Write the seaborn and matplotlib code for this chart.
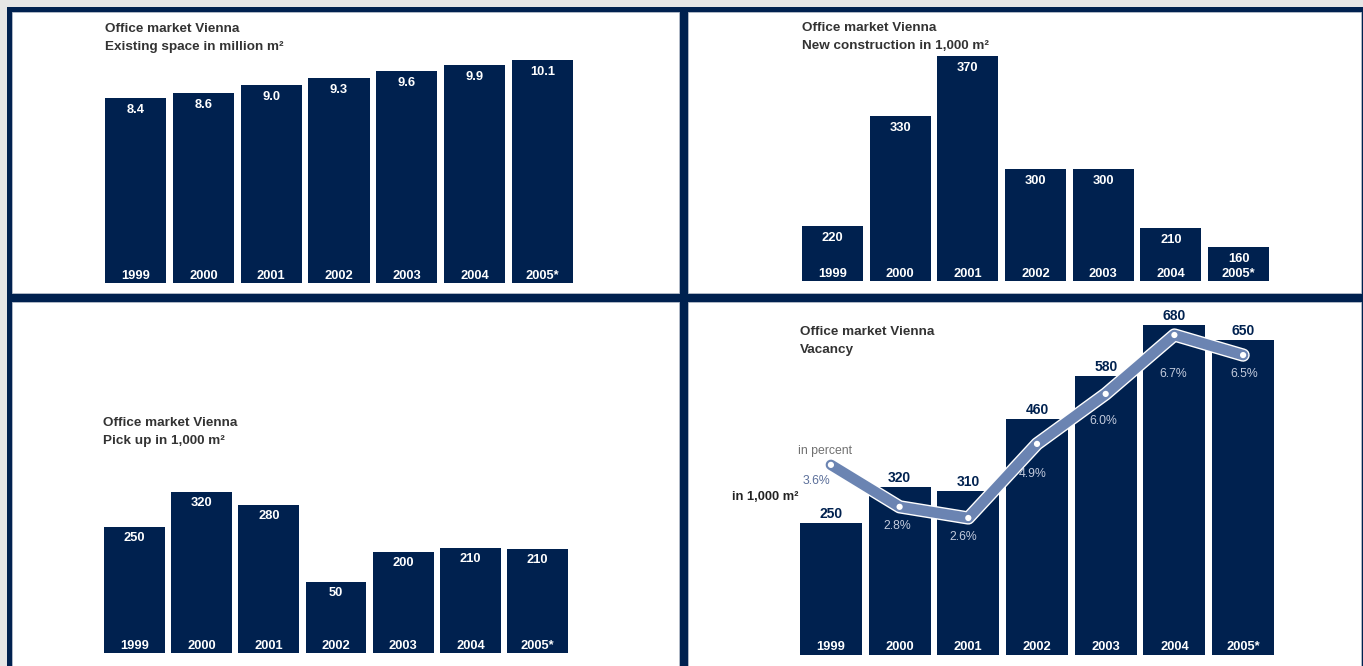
import numpy as np
import pandas as pd
import matplotlib
matplotlib.use("Agg")
import matplotlib.pyplot as plt
import matplotlib.patheffects as pe
from matplotlib.patches import Rectangle
import seaborn as sns

# ---------------- data ----------------
years = ["1999", "2000", "2001", "2002", "2003", "2004", "2005*"]

existing_space = [8.4, 8.6, 9.0, 9.3, 9.6, 9.9, 10.1]          # million m²

new_construction = [220, 330, 370, 300, 300, 210, 160]         # 1,000 m² (labels)
new_construction_drawn = [90, 271, 370, 184, 184, 87, 56]      # bar lengths as drawn in source (not to scale)

pick_up = [250, 320, 280, 50, 200, 210, 210]                   # 1,000 m² (labels)
pick_up_drawn = [250, 320, 294, 141, 201, 209, 207]            # bar lengths as drawn in source

vacancy = [250, 320, 310, 460, 580, 680, 650]                  # 1,000 m² (labels)
vacancy_drawn = [272, 346, 338, 486, 575, 680, 649]            # bar lengths as drawn in source

vacancy_pct = [3.6, 2.8, 2.6, 4.9, 6.0, 6.7, 6.5]              # percent (labels)
vacancy_pct_drawn = [3.79, 2.85, 2.6, 4.26, 5.38, 6.7, 6.25]   # line heights as drawn in source

# ---------------- style ----------------
sns.set_style("white")
plt.rcParams["font.family"] = ["Liberation Sans", "DejaVu Sans"]

NAVY = "#00214f"
LINE = "#6b84b2"
TITLE = "#333333"
BG = "#e6e6e6"

W, H = 1363, 666
fig = plt.figure(figsize=(W / 100, H / 100), dpi=100, facecolor=BG)

bg = fig.add_axes([0, 0, 1, 1])
bg.set_xlim(0, W)
bg.set_ylim(H, 0)
bg.axis("off")
bg.set_zorder(0)

bg.add_patch(Rectangle((7, 7), W - 7, H - 7, facecolor=NAVY, edgecolor="none"))
for (x0, y0, x1, y1) in [(12, 12, 679, 293), (688, 12, 1361, 293),
                         (12, 302, 679, 670), (688, 302, 1361, 670)]:
    bg.add_patch(Rectangle((x0, y0), x1 - x0, y1 - y0, facecolor="white",
                           edgecolor="#b8bfcc", linewidth=0.6))


def px_axes(x0, y0, x1, y1):
    ax = fig.add_axes([x0 / W, 1 - y1 / H, (x1 - x0) / W, (y1 - y0) / H])
    ax.set_zorder(1)
    ax.patch.set_alpha(0)
    return ax


def draw_bars(ax, heights, ymax):
    df = pd.DataFrame({"year": years, "value": heights})
    sns.barplot(data=df, x="year", y="value", color=NAVY, saturation=1,
                width=0.9, linewidth=0, ax=ax)
    ax.set_xlim(-0.45, 6.45)
    ax.set_ylim(0, ymax)
    ax.axis("off")


def inner_labels(ax, heights, labels, top_off=-12, year_off=7):
    for i, (h, lab) in enumerate(zip(heights, labels)):
        ax.annotate(lab, (i, h), xytext=(0, top_off), textcoords="offset pixels",
                    ha="center", va="center", color="white",
                    fontweight="bold", fontsize=9.3)
        ax.annotate(years[i], (i, 0), xytext=(0, year_off), textcoords="offset pixels",
                    ha="center", va="center", color="white",
                    fontweight="bold", fontsize=9.3)


def title(x, y, lines):
    for k, line in enumerate(lines):
        bg.text(x, y + k * 18, line, ha="left", va="center", color=TITLE,
                fontweight="bold", fontsize=9.7)


# ---- top left: existing space ----
ax1 = px_axes(105, 57, 573, 283)
draw_bars(ax1, existing_space, 10.25)
inner_labels(ax1, existing_space, [f"{v:.1f}" for v in existing_space], top_off=-12)
title(105, 29, ["Office market Vienna", "Existing space in million m²"])

# ---- top right: new construction ----
ax2 = px_axes(802, 56, 1269, 281)
draw_bars(ax2, new_construction_drawn, 370)
inner_labels(ax2, new_construction_drawn, [str(v) for v in new_construction], top_off=-12)
title(802, 28, ["Office market Vienna", "New construction in 1,000 m²"])

# ---- bottom left: pick up ----
ax3 = px_axes(104, 492, 568, 653)
draw_bars(ax3, pick_up_drawn, 320)
inner_labels(ax3, pick_up_drawn, [str(v) for v in pick_up], top_off=-11, year_off=7)
title(103, 423, ["Office market Vienna", "Pick up in 1,000 m²"])

# ---- bottom right: vacancy ----
ax4 = px_axes(800, 325, 1274, 655)
draw_bars(ax4, vacancy_drawn, 680)
for i, (h, v) in enumerate(zip(vacancy_drawn, vacancy)):
    ax4.annotate(str(v), (i, h), xytext=(0, 9), textcoords="offset pixels",
                 ha="center", va="center", color=NAVY, fontweight="bold", fontsize=10)
    ax4.annotate(years[i], (i, 0), xytext=(0, 8), textcoords="offset pixels",
                 ha="center", va="center", color="white", fontweight="bold", fontsize=9.3)
title(800, 332, ["Office market Vienna", "Vacancy"])

ax5 = ax4.twinx()
ax5.set_zorder(2)
ax5.patch.set_alpha(0)
xs = np.arange(len(years))
sns.lineplot(x=xs, y=vacancy_pct_drawn, ax=ax5, color=LINE, linewidth=7.6,
             solid_capstyle="round", solid_joinstyle="round")
ax5.lines[0].set_path_effects([
    pe.Stroke(linewidth=9.6, foreground="white", capstyle="round", joinstyle="round"),
    pe.Normal()])
sns.scatterplot(x=xs, y=vacancy_pct_drawn, ax=ax5, color="white", s=20,
                edgecolor="none", zorder=5)
ax5.set_ylim(-0.47, 6.924)
ax5.set_xlim(-0.45, 6.45)
ax4.set_xlim(-0.45, 6.45)
ax5.axis("off")

pct_offsets = [(-14, -16), (-2, -19), (-5, -19), (-4, -30), (-2, -27), (-1, -39), (1, -19)]
for i, (h, p) in enumerate(zip(vacancy_pct_drawn, vacancy_pct)):
    col = "#5b6f9a" if i == 0 else "#c3cbdd"
    ax5.annotate(f"{p:.1f}%", (i, h), xytext=pct_offsets[i], textcoords="offset pixels",
                 ha="center", va="center", color=col, fontsize=8.8)

bg.text(825, 451, "in percent", ha="center", va="center", color="#707070", fontsize=8.8)
bg.text(765, 497, "in 1,000 m²", ha="center", va="center", color="#222222",
        fontweight="bold", fontsize=9.3)

fig.savefig("out.png", dpi=100, facecolor=BG)
